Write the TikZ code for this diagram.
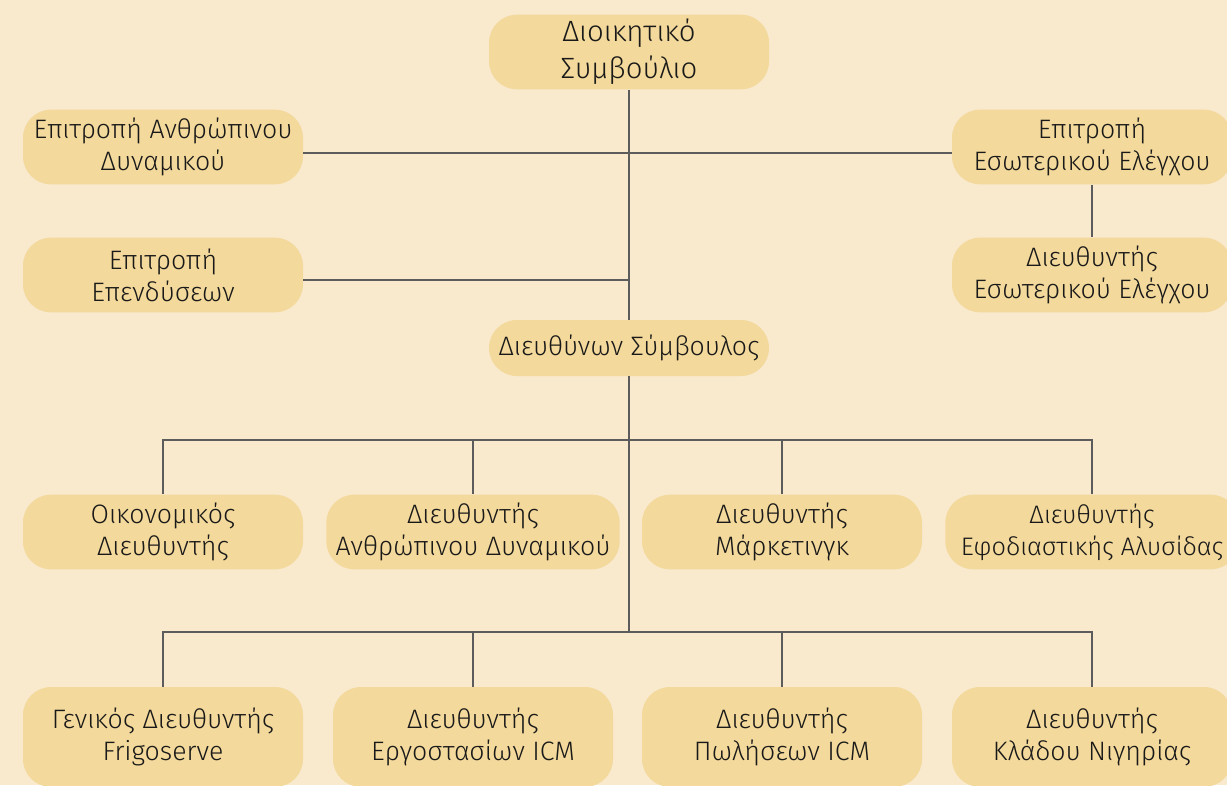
\documentclass[tikz,border=0pt]{standalone}
\usepackage{fontspec}
\setmainfont{Fira Sans}[UprightFont=* Light]
\definecolor{paper}{HTML}{F9E9CD}
\definecolor{boxfill}{HTML}{F3D99B}
\definecolor{wirecol}{HTML}{5C5C5C}

\begin{document}
\begin{tikzpicture}[x=0.75pt,y=-0.75pt]
            \fill[paper] (0,0) rectangle (1227,785);
            \useasboundingbox (0,0) rectangle (1227,785);
            \tikzstyle{every node} = [rounded corners=21pt,fill=boxfill,text=black!90,align=center,inner sep=2pt,minimum width=210pt,minimum height=56pt,font=\fontsize{20}{24}\selectfont];
            \tikzstyle{wire} = [draw=wirecol,line width=0.9pt];
            \tikzstyle{tall} = [minimum height=75pt];
            \tikzstyle{wide} = [minimum width=220pt];
            \node (board) at (629, 52) [font=\fontsize{22}{28}\selectfont] {Διοικητικό\\Συμβούλιο};
            \node (hrcom) at (163, 147) {Επιτροπή Ανθρώπινου\\Δυναμικού};
            \node (audcom) at (1092, 147) {Επιτροπή\\Εσωτερικού Ελέγχου};
            \node (invcom) at (163, 275) {Επιτροπή\\Επενδύσεων};
            \node (auddir) at (1092, 275) {Διευθυντής\\Εσωτερικού Ελέγχου};
            \node (ceo) at (629, 348) [minimum height=42pt] {Διευθύνων Σύμβουλος};
            \node (fin) at (163, 532) {Οικονομικός\\Διευθυντής};
            \node (hrdir) at (473, 532) [style=wide] {Διευθυντής\\Ανθρώπινου Δυναμικού};
            \node (mkt) at (782, 532) {Διευθυντής\\Μάρκετινγκ};
            \node (scm) at (1092, 532) [style=wide,font=\fontsize{19}{24}\selectfont] {Διευθυντής\\Εφοδιαστικής Αλυσίδας};
            \node (frigo) at (163, 737) [style=tall] {Γενικός Διευθυντής\\Frigoserve};
            \node (plant) at (473, 737) [style=tall] {Διευθυντής\\Εργοστασίων ICM};
            \node (sales) at (782, 737) [style=tall] {Διευθυντής\\Πωλήσεων ICM};
            \node (ice) at (1092, 737) [style=tall] {Διευθυντής\\Κλάδου Νιγηρίας};
            \coordinate (j1) at (629, 280);
            \coordinate (bus1) at (629, 440);
            \coordinate (bus2) at (629, 632);
            \begin{scope}[on background layer/.try]
            \draw[style=wire] (board) -- (ceo);
            \draw[style=wire] ([yshift=-4.5pt]hrcom.east) -- ([yshift=-4.5pt]audcom.west);
            \draw[style=wire] (invcom.east |- j1) -- (j1);
            \draw[style=wire] (audcom) -- (auddir);
            \draw[style=wire] (ceo) -- (bus2);
            \draw[style=wire] (fin) |- (bus1);
            \draw[style=wire] (hrdir) |- (bus1);
            \draw[style=wire] (mkt) |- (bus1);
            \draw[style=wire] (scm) |- (bus1);
            \draw[style=wire] (frigo) |- (bus2);
            \draw[style=wire] (plant) |- (bus2);
            \draw[style=wire] (sales) |- (bus2);
            \draw[style=wire] (ice) |- (bus2);
            \end{scope}
        \end{tikzpicture}
\end{document}
